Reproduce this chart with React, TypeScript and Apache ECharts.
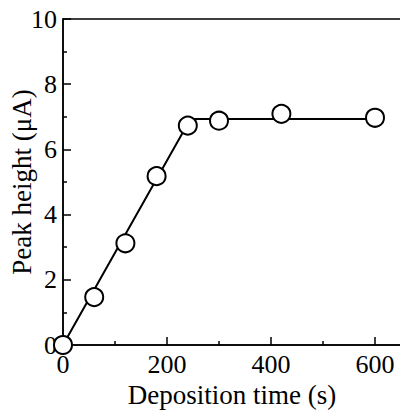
import React, { useEffect, useRef } from "react";
import * as echarts from "echarts";

const timeValues = [0, 60, 120, 180, 240, 300, 420, 600];
const peakValues = [0, 1.47, 3.12, 5.18, 6.73, 6.88, 7.09, 6.97];
const fitX = [0, 245, 600];
const fitY = [0, 6.93, 6.93];

const FONT = "'Liberation Serif', 'Times New Roman', serif";

export default function App() {
  const ref = useRef<HTMLDivElement>(null);
  useEffect(() => {
    if (!ref.current) return;
    const chart = echarts.init(ref.current, null, { renderer: "svg" });
    chart.setOption({
      animation: false,
      backgroundColor: "#fff",
      textStyle: { fontFamily: FONT },
      grid: {
        left: 63,
        top: 19,
        bottom: 72,
        width: 338,
        show: true,
        borderColor: "#000",
        borderWidth: 1.5,
        containLabel: false,
        outerBoundsMode: "none",
      },
      xAxis: {
        type: "value",
        min: 0,
        max: 650,
        interval: 200,
        name: "Deposition time (s)",
        nameLocation: "middle",
        nameGap: 36,
        nameTextStyle: { fontFamily: FONT, fontSize: 27, color: "#000" },
        axisLine: { lineStyle: { color: "#000", width: 1.5 } },
        axisTick: { inside: true, length: 8, lineStyle: { color: "#000", width: 1.5 } },
        minorTick: { show: true, splitNumber: 2, length: 4, lineStyle: { color: "#000", width: 1.5 } },
        splitLine: { show: false },
        axisLabel: { fontFamily: FONT, fontSize: 26, color: "#000", margin: 6, showMaxLabel: false },
      },
      yAxis: {
        type: "value",
        min: 0,
        max: 10,
        interval: 2,
        name: "Peak height (\u03bcA)",
        nameLocation: "middle",
        nameGap: 28,
        nameMoveOverlap: false,
        nameTextStyle: { fontFamily: FONT, fontSize: 27, color: "#000" },
        axisLine: { lineStyle: { color: "#000", width: 1.5 } },
        axisTick: { inside: true, length: 8, lineStyle: { color: "#000", width: 1.5 } },
        minorTick: { show: true, splitNumber: 2, length: 4, lineStyle: { color: "#000", width: 1.5 } },
        splitLine: { show: false },
        axisLabel: { fontFamily: FONT, fontSize: 26, color: "#000", margin: 6 },
      },
      series: [
        {
          type: "line",
          data: fitX.map((x, i) => [x, fitY[i]]),
          showSymbol: false,
          symbol: "none",
          lineStyle: { color: "#000", width: 2 },
          z: 2,
        },
        {
          type: "scatter",
          data: timeValues.map((x, i) => [x, peakValues[i]]),
          symbol: "circle",
          symbolSize: 18,
          itemStyle: { color: "#fff", borderColor: "#000", borderWidth: 2, opacity: 1 },
          z: 3,
        },
      ],
    });
    return () => chart.dispose();
  }, []);
  return (
    <div
      ref={ref}
      style={{ position: "fixed", left: 0, top: 0, width: 400, height: 417, overflow: "hidden" }}
    />
  );
}
